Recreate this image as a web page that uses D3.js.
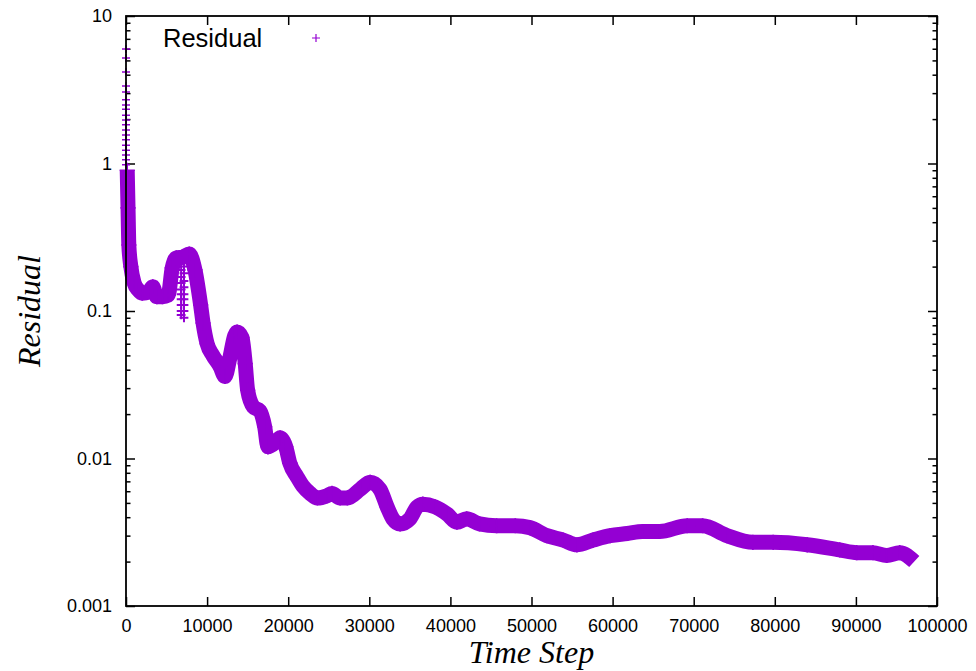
<!DOCTYPE html>
<html>
<head>
<meta charset="utf-8">
<script src="https://cdn.jsdelivr.net/npm/d3@7"></script>
<style>
  body { margin: 0; background: #fff; }
  svg { display: block; }
  .tick text { font-family: "Liberation Sans", Arial, sans-serif; font-size: 18px; fill: #000; }
</style>
</head>
<body>
<div id="chart"></div>
<script>
// chart size, same as the window
const width = 976,
      height = 671;

// plot frame (gnuplot style box)
const plotLeft = 126, plotRight = 937, plotTop = 16, plotBottom = 606;

const violet = "#9400d3";

// ---- data ----
// centre of the thick band of points
const steps = [150, 250, 350, 600, 1000, 1500, 2000, 2800, 3300, 3800, 4500, 5200, 5700, 6200, 7000, 7800,
  8500, 9200, 9500, 10000, 10700, 11600, 12200, 12800, 13400, 13700, 14300, 14700, 15000, 15700, 16500,
  17100, 17500, 18400, 19000, 19700, 20200, 21100, 21800, 22700, 23600, 24800, 25400, 26400, 27300,
  28900, 30100, 31300, 32200, 32900, 33800, 35000, 35900, 36600, 38100, 39600, 40800, 42000, 43600,
  45700, 48000, 49800, 51900, 53900, 55600, 57600, 59700, 61800, 63700, 65800, 69200, 71100, 74100,
  77300, 79800, 84000, 88000, 90100, 92100, 93800, 95400, 97200];
const residuals = [0.9, 0.5, 0.28, 0.2, 0.155, 0.139, 0.132, 0.135, 0.146, 0.125, 0.125, 0.128, 0.196, 0.229, 0.232, 0.243,
  0.19, 0.11, 0.083, 0.06, 0.05, 0.042, 0.036, 0.048, 0.068, 0.072, 0.066, 0.044, 0.029, 0.0224, 0.021,
  0.0164, 0.012, 0.0128, 0.0138, 0.012, 0.0093, 0.0075, 0.0065, 0.0058, 0.0054, 0.0056, 0.0058, 0.0054, 0.0054,
  0.0062, 0.0069, 0.0062, 0.0047, 0.0039, 0.0036, 0.0039, 0.0047, 0.0049, 0.0047, 0.0042, 0.0037, 0.0039, 0.0036,
  0.0035, 0.0035, 0.0034, 0.0030, 0.0028, 0.0026, 0.0028, 0.0030, 0.0031, 0.0032, 0.0032, 0.0035, 0.0035, 0.0030,
  0.0027, 0.0027, 0.0026, 0.0024, 0.0023, 0.0023, 0.0022, 0.0023, 0.0020];

// loose points at the very start
const spikeSteps = [0, 0, 0, 0, 0, 0, 0, 0, 0, 0, 0, 0, 0, 0, 0, 0, 0, 0, 0];
const spikeValues = [5.97, 5.19, 4.17, 3.35, 3.05, 2.7, 2.49, 2.33, 2.12, 1.97, 1.83, 1.69, 1.56, 1.45, 1.33, 1.23, 1.14, 1.06, 0.98];

// loose points of the dip near step 7000 (two columns)
const dipSteps = [6800, 6800, 6800, 6800, 6800, 6800, 6800, 6800, 6800, 6800,
  7150, 7150, 7150, 7150, 7150, 7150, 7150, 7150, 7150];
const dipValues = [0.21, 0.19, 0.17, 0.155, 0.14, 0.13, 0.12, 0.11, 0.1, 0.094,
  0.2, 0.18, 0.16, 0.145, 0.13, 0.12, 0.11, 0.1, 0.09];

// axis ticks
const xTicks = [0, 10000, 20000, 30000, 40000, 50000, 60000, 70000, 80000, 90000, 100000];
const xTickLabels = ["0", "10000", "20000", "30000", "40000", "50000", "60000", "70000", "80000", "90000", "100000"];
const yTicks = [0.001, 0.01, 0.1, 1, 10];
const yTickLabels = ["0.001", "0.01", "0.1", "1", "10"];

const svg = d3.select("#chart")
              .append("svg")
              .attr("width", width)
              .attr("height", height);

const x = d3.scaleLinear().domain([0, 100000]).range([plotLeft, plotRight]);
const y = d3.scaleLog().domain([0.001, 10]).range([plotBottom, plotTop]);

// minor ticks on the log axis: 2..9 in each decade
const yMinor = y.ticks().filter(v => !yTicks.some(t => Math.abs(t - v) < t * 1e-6));

// bottom axis with labels, ticks pointing in
svg.append("g")
   .attr("transform", `translate(0,${plotBottom})`)
   .call(d3.axisBottom(x).tickValues(xTicks).tickSize(-9).tickPadding(13)
           .tickFormat((d, i) => xTickLabels[i]));
// top axis, ticks only
svg.append("g")
   .attr("transform", `translate(0,${plotTop})`)
   .call(d3.axisTop(x).tickValues(xTicks).tickSize(-9).tickFormat(""));

// left axis with labels
svg.append("g")
   .attr("transform", `translate(${plotLeft},0)`)
   .call(d3.axisLeft(y).tickValues(yTicks).tickSize(-9).tickPadding(14)
           .tickFormat((d, i) => yTickLabels[i]));
svg.append("g")
   .attr("transform", `translate(${plotLeft},0)`)
   .call(d3.axisLeft(y).tickValues(yMinor).tickSize(-4.5).tickFormat(""));
// right axis, ticks only
svg.append("g")
   .attr("transform", `translate(${plotRight},0)`)
   .call(d3.axisRight(y).tickValues(yTicks).tickSize(-9).tickFormat(""));
svg.append("g")
   .attr("transform", `translate(${plotRight},0)`)
   .call(d3.axisRight(y).tickValues(yMinor).tickSize(-4.5).tickFormat(""));

svg.selectAll(".domain").remove();
svg.selectAll(".tick line").attr("stroke", "#000").attr("stroke-width", 1.5);

// the data band
const line = d3.line()
               .x((d, i) => x(steps[i]))
               .y(d => y(d))
               .curve(d3.curveMonotoneX);

svg.append("path")
   .datum(residuals)
   .attr("d", line)
   .attr("fill", "none")
   .attr("stroke", violet)
   .attr("stroke-width", 15)
   .attr("stroke-linejoin", "round");

// "+" markers on the read points
const plus = "M-4,0H4M0,-4V4";

function drawPlus(xs, ys, size, sw) {
  svg.append("g")
     .selectAll("path")
     .data(ys)
     .join("path")
     .attr("d", plus)
     .attr("transform", (d, i) => `translate(${x(xs[i])},${y(d)}) scale(${size})`)
     .attr("fill", "none")
     .attr("stroke", violet)
     .attr("stroke-width", sw / size);
}

drawPlus(steps.slice(0, -1), residuals.slice(0, -1), 1.9, 1.6);
drawPlus(spikeSteps, spikeValues, 1, 1.5);
drawPlus(dipSteps, dipValues, 1.1, 2);

// frame
svg.append("rect")
   .attr("x", plotLeft)
   .attr("y", plotTop)
   .attr("width", plotRight - plotLeft)
   .attr("height", plotBottom - plotTop)
   .attr("fill", "none")
   .attr("stroke", "#000")
   .attr("stroke-width", 1.8);

// legend
svg.append("text")
   .attr("x", 163)
   .attr("y", 47)
   .attr("font-family", "Liberation Sans, Arial, sans-serif")
   .attr("font-size", 25.5)
   .text("Residual");

svg.append("path")
   .attr("d", plus)
   .attr("transform", "translate(316,38)")
   .attr("fill", "none")
   .attr("stroke", violet)
   .attr("stroke-width", 1.2);

// axis titles
svg.append("text")
   .attr("x", (plotLeft + plotRight) / 2)
   .attr("y", 663)
   .attr("text-anchor", "middle")
   .attr("font-family", "Liberation Serif, Times New Roman, serif")
   .attr("font-style", "italic")
   .attr("font-size", 32)
   .text("Time Step");

svg.append("text")
   .attr("transform", `translate(40,${(plotTop + plotBottom) / 2}) rotate(-90)`)
   .attr("text-anchor", "middle")
   .attr("font-family", "Liberation Serif, Times New Roman, serif")
   .attr("font-style", "italic")
   .attr("font-size", 32)
   .text("Residual");
</script>
</body>
</html>
